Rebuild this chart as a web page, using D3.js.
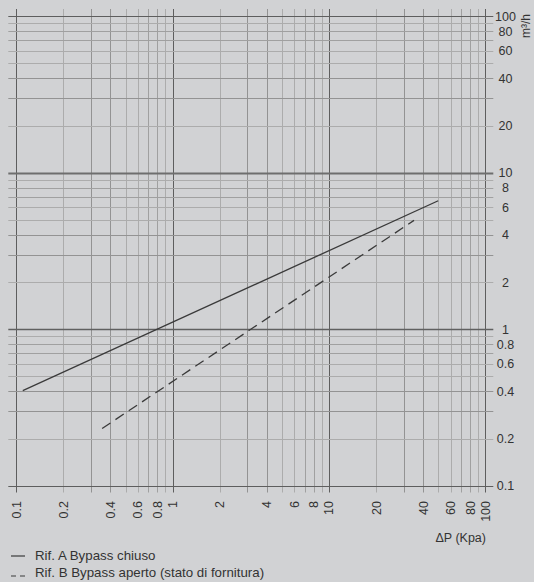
<!DOCTYPE html>
<html>
<head>
<meta charset="utf-8">
<script src="https://cdn.jsdelivr.net/npm/d3@7"></script>
<style>
  html, body { margin: 0; padding: 0; background: #d1d2d4; }
  svg { display: block; }
  text { font-family: "Liberation Sans", Arial, sans-serif; fill: #333; }
</style>
</head>
<body>
<svg id="chart" width="534" height="582"></svg>
<script>
// ---- data ----
const xTickLabels = [0.1, 0.2, 0.4, 0.6, 0.8, 1, 2, 4, 6, 8, 10, 20, 40, 60, 80, 100];
const yTickLabels = [0.1, 0.2, 0.4, 0.6, 0.8, 1, 2, 4, 6, 8, 10, 20, 40, 60, 80, 100];
const decades = [0.1, 1, 10];
const multiples = [1, 2, 3, 4, 5, 6, 7, 8, 9];
// Rif. A Bypass chiuso : [ΔP kPa, m3/h]
const seriesA = [[0.11, 0.405], [50, 6.62]];
// Rif. B Bypass aperto (stato di fornitura)
const seriesB = [[0.354, 0.232], [35, 4.96]];
const legendLabels = ["Rif. A Bypass chiuso", "Rif. B Bypass aperto (stato di fornitura)"];
const xTitle = "\u0394P (Kpa)";
const yTitle = "m\u00B3/h";

// ---- drawing ----
const svg = d3.select("#chart");
svg.append("rect").attr("width", 534).attr("height", 582).attr("fill", "#d1d2d4");

const x = d3.scaleLog().domain([0.1, 100]).range([16.3, 485.3]);
const y = d3.scaleLog().domain([0.1, 100]).range([485.7, 16.2]);

const gridVals = [];
decades.forEach(d => multiples.forEach(m => gridVals.push({v: +(d * m).toPrecision(3), m})));
gridVals.push({v: 100, m: 1});

function gStyle(sel, m, horizontal, v) {
  let c = "#acacac", w = 1;
  if (m === 1) { c = "#5e5e5e"; w = 1; }
  else if (m === 3 || m === 4) { c = "#939393"; w = 1; }
  else if (m === 7 || m === 8) { c = "#a0a0a0"; }
  if (horizontal && v === 10) { c = "#6e6e6e"; w = 2; }
  if (horizontal && v === 1) { c = "#606060"; w = 1.5; }
  sel.attr("stroke", c).attr("stroke-width", w);
}

const grid = svg.append("g");
gridVals.forEach(g => {
  const xv = Math.round(x(g.v)) + 0.5;
  grid.append("line").attr("x1", xv).attr("x2", xv).attr("y1", 9).attr("y2", 492.5)
    .call(s => gStyle(s, g.m, false, g.v));
});
gridVals.forEach(g => {
  const yv = Math.round(y(g.v)) + 0.5;
  grid.append("line").attr("y1", yv).attr("y2", yv).attr("x1", 8.3).attr("x2", 493.3)
    .call(s => gStyle(s, g.m, true, g.v));
});

// Y tick labels (right)
svg.append("g").selectAll("text").data(yTickLabels).join("text")
  .attr("x", 505.5).attr("y", d => y(d)).attr("dy", "0.36em")
  .attr("text-anchor", "middle").attr("font-size", 12.5)
  .text(d => d);

// X tick labels (bottom, rotated)
svg.append("g").selectAll("text").data(xTickLabels).join("text")
  .attr("transform", d => `translate(${x(d)},501) rotate(-90)`)
  .attr("dy", "0.36em").attr("text-anchor", "end").attr("font-size", 12.5)
  .text(d => d);

// axis titles
svg.append("text").attr("x", 486).attr("y", 542).attr("text-anchor", "end")
  .attr("font-size", 12.5).text(xTitle);
svg.append("text").attr("transform", "translate(530,26) rotate(-90)")
  .attr("text-anchor", "middle").attr("font-size", 12).text(yTitle);

// curves
const line = d3.line().x(d => x(d[0])).y(d => y(d[1]));
svg.append("path").datum(seriesA).attr("d", line)
  .attr("fill", "none").attr("stroke", "#3a3a3a").attr("stroke-width", 1.3);
svg.append("path").datum(seriesB).attr("d", line)
  .attr("fill", "none").attr("stroke", "#3a3a3a").attr("stroke-width", 1.3)
  .attr("stroke-dasharray", "10,6");

// legend
const lg = svg.append("g");
lg.append("line").attr("x1", 11).attr("x2", 25).attr("y1", 556).attr("y2", 556)
  .attr("stroke", "#3a3a3a").attr("stroke-width", 1.2);
lg.append("line").attr("x1", 11).attr("x2", 26).attr("y1", 576).attr("y2", 576)
  .attr("stroke", "#3a3a3a").attr("stroke-width", 1.2).attr("stroke-dasharray", "5,4");
lg.selectAll("text.l").data(legendLabels).join("text").attr("class", "l")
  .attr("x", 35).attr("y", (d, i) => 560 + i * 17).attr("font-size", 13.3)
  .text(d => d);
</script>
</body>
</html>
